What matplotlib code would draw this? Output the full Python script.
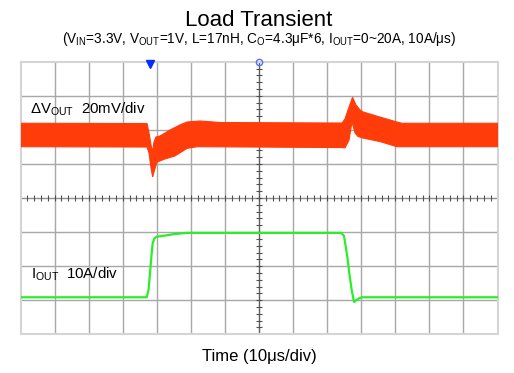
import numpy as np
import matplotlib.pyplot as plt

plt.rcParams['font.family'] = ['Liberation Sans', 'DejaVu Sans']
plt.rcParams['mathtext.fontset'] = 'custom'
plt.rcParams['mathtext.rm'] = 'Liberation Sans'

# ΔVout envelope (time in us, deviation in mV) - upper and lower edge of the noisy band
t_up = [0, 37.13, 37.72, 38.30, 38.74, 39.18, 39.77, 40.94, 43.88, 46.82, 48.87, 52.69,
        58.56, 94.36, 95.25, 96.13, 97.45, 98.47, 99.65, 100.53, 105.52, 110.51, 112, 140]
v_up = [6.75, 6.6, 1.1, -6.0, -10.1, -4.2, -1.3, -0.7, 2.8, 5.8, 7.5, 8.1,
        7.2, 6.9, 9.3, 14.6, 22.0, 17.5, 14.6, 13.4, 10.4, 7.5, 6.75, 6.75]
t_lo = [0, 37.13, 37.72, 38.30, 38.80, 39.33, 40.06, 42.41, 45.35, 48.87, 51.81,
        94.36, 95.25, 96.42, 97.30, 98.18, 99.06, 100.53, 105.52, 110.51, 140]
v_lo = [-7.0, -7.2, -10.7, -19.5, -24.8, -20.7, -16.0, -14.2, -12.4, -8.0, -7.0,
        -7.5, -7.7, -3.1, 7.5, 1.1, -1.0, -1.9, -4.0, -7.0, -7.0]

# Iout (time in us, current in A)
t_i = [0, 37.04, 37.57, 38.01, 38.45, 38.80, 39.33, 39.98, 42.41, 44.76, 48.78, 52.69,
       94.16, 94.95, 95.92, 96.57, 97.21, 97.89, 98.47, 99.35, 100.23, 140]
i_out = [0, 0, 2.1, 7.1, 12.4, 15.9, 17.3, 17.8, 18.1, 18.5, 18.9, 18.9,
         18.9, 18.0, 11.9, 6.5, 2.1, -1.4, -0.9, -0.3, 0, 0]

# scope settings
V_SCALE, V_OFFSET = 20.0, 1.855   # mV/div, div
I_SCALE, I_OFFSET = 10.0, -2.914  # A/div, div

fig = plt.figure(figsize=(5.14, 3.73), dpi=100)
ax = fig.add_axes([0.0399, 0.1038, 0.9280, 0.7308])
ax.set_xlim(0, 140)
ax.set_ylim(-4, 4)

# graticule
for x in np.arange(10, 140, 10):
    if x != 70:
        ax.axvline(x, color='#a8a8a8', lw=1, zorder=1)
for y in np.arange(-3, 4, 1):
    if y != 0:
        ax.axhline(y, color='#a8a8a8', lw=1, zorder=1)
ax.axvline(70, color='#606060', lw=1, zorder=1)
ax.axhline(0, color='#909090', lw=1, zorder=1)
ax.plot(np.arange(2, 140, 2), np.zeros(69), ls='', marker='|', ms=5, mew=0.8,
        color='#505050', zorder=1)
ax.plot(np.full(39, 70), np.arange(-3.8, 4, 0.2), ls='', marker='_', ms=5, mew=0.8,
        color='#505050', zorder=1)
for s in ax.spines.values():
    s.set_color('#d4d4d4')
    s.set_linewidth(1.5)
ax.set_xticks([])
ax.set_yticks([])

# traces
ax.fill(np.concatenate([t_up, t_lo[::-1]]),
        V_OFFSET + np.concatenate([v_up, v_lo[::-1]]) / V_SCALE,
        color='#ff3c0a', lw=0.8, zorder=3)
ax.plot(t_i, I_OFFSET + np.array(i_out) / I_SCALE, color='#2aee2a', lw=1.6, zorder=3)

# markers at the top
ax.plot([37.9], [3.93], marker='v', ms=5.5, color='#0a2dff', clip_on=False, zorder=5)
ax.plot([70.1], [3.98], marker='o', ms=4.5, mfc='none', mec='#5070ff', mew=1,
        clip_on=False, zorder=5)

# labels
fig.text(30 / 514, 1 - 113.3 / 373, r'ΔV$\mathregular{_{OUT}}$  20mV/div', fontsize=10.8,
         va='baseline', ha='left')
fig.text(31 / 514, 1 - 278.3 / 373, r'I$\mathregular{_{OUT}}$  10A/div', fontsize=10.8,
         va='baseline', ha='left')

fig.text(0.503, 1 - 25.5 / 373, 'Load Transient', fontsize=16, ha='center', va='baseline')
fig.text(0.505, 1 - 43 / 373,
         r'(V$\mathregular{_{IN}}$=3.3V, V$\mathregular{_{OUT}}$=1V, L=17nH, '
         r'C$\mathregular{_{O}}$=4.3μF*6, I$\mathregular{_{OUT}}$=0~20A, 10A/μs)',
         fontsize=9.8, ha='center', va='baseline')
fig.text(0.505, 1 - 360.7 / 373, 'Time (10μs/div)', fontsize=12, ha='center',
         va='baseline')

fig.savefig('out.png', dpi=100)
